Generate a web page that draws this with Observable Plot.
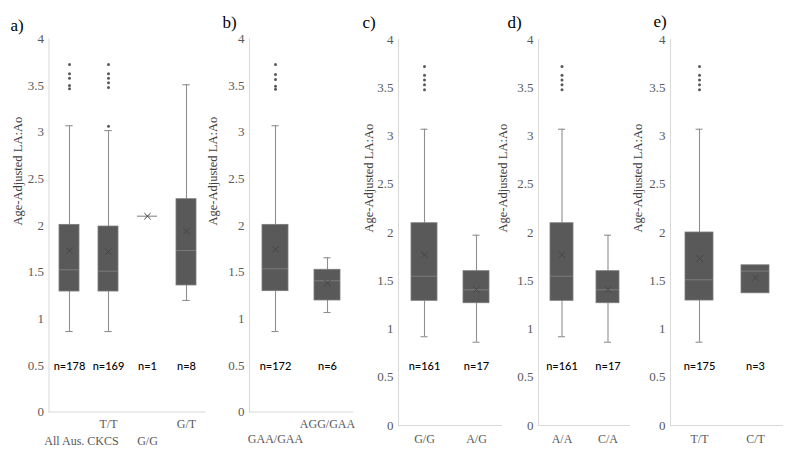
<!DOCTYPE html>
<html><head><meta charset="utf-8">
<script src="https://cdn.jsdelivr.net/npm/d3@7"></script>
<script src="https://cdn.jsdelivr.net/npm/@observablehq/plot@0.6"></script>
<style>
body{margin:0;background:#fff}
#chart{position:relative;width:794px;height:455px;overflow:hidden;background:#fff}
#chart svg{position:absolute;left:0;top:0}
</style></head><body><div id="chart"></div>
<script>
// ---------- data ----------
const yTicks = [0, 0.5, 1, 1.5, 2, 2.5, 3, 3.5, 4];
const yLabel = "Age-Adjusted LA:Ao";

// a)
const aCats = ["All Aus. CKCS", "T/T", "G/G", "G/T"];
const aN    = ["n=178", "n=169", "n=1", "n=8"];
const aLow  = [0.863, 0.863, 2.10, 1.196];
const aQ1   = [1.292, 1.292, 2.10, 1.357];
const aMed  = [1.525, 1.510, 2.10, 1.732];
const aQ3   = [2.007, 1.989, 2.10, 2.282];
const aHigh = [3.070, 3.018, 2.10, 3.509];
const aMean = [1.730, 1.720, 2.10, 1.939];
const aOut  = [[3.727, 3.627, 3.579, 3.501, 3.466], [3.727, 3.627, 3.58, 3.53, 3.48, 3.065], [], []];

// b)
const bCats = ["GAA/GAA", "AGG/GAA"];
const bN    = ["n=172", "n=6"];
const bLow  = [0.863, 1.067];
const bQ1   = [1.296, 1.196];
const bMed  = [1.536, 1.407];
const bQ3   = [2.007, 1.525];
const bHigh = [3.070, 1.654];
const bMean = [1.743, 1.381];
const bOut  = [[3.727, 3.62, 3.565, 3.494, 3.46], []];

// c)
const cCats = ["G/G", "A/G"];
const cN    = ["n=161", "n=17"];
const cLow  = [0.92, 0.863];
const cQ1   = [1.292, 1.267];
const cMed  = [1.547, 1.406];
const cQ3   = [2.096, 1.599];
const cHigh = [3.07, 1.972];
const cMean = [1.769, 1.41];
const cOut  = [[3.72, 3.63, 3.58, 3.53, 3.48], []];

// d)
const dCats = ["A/A", "C/A"];
const dN    = ["n=161", "n=17"];
const dLow  = [0.92, 0.863];
const dQ1   = [1.292, 1.267];
const dMed  = [1.547, 1.406];
const dQ3   = [2.096, 1.599];
const dHigh = [3.07, 1.972];
const dMean = [1.769, 1.41];
const dOut  = [[3.72, 3.63, 3.58, 3.53, 3.48], []];

// e)
const eCats = ["T/T", "C/T"];
const eN    = ["n=175", "n=3"];
const eLow  = [0.863, 1.37];
const eQ1   = [1.295, 1.37];
const eMed  = [1.51, 1.60];
const eQ3   = [2.00, 1.66];
const eHigh = [3.07, 1.66];
const eMean = [1.73, 1.53];
const eOut  = [[3.72, 3.63, 3.58, 3.53, 3.48], []];

// ---------- helpers ----------
function rowsOf(cats, n, low, q1, med, q3, high, mean) {
  return cats.map((c, i) => ({cat: c, n: n[i], low: low[i], q1: q1[i], med: med[i], q3: q3[i], high: high[i], mean: mean[i]}));
}
function outRowsOf(cats, outs) {
  return cats.flatMap((c, i) => outs[i].map(v => ({cat: c, v})));
}

const SERIF = "Liberation Serif, Times New Roman, serif";
const SANS = "Lato, Liberation Sans, sans-serif";
const BOX = "#595959", WHISK = "#8f8f8f", AXIS = "#d9d9d9", TICKTXT = "#595959";

function panel(cfg, rows, outs) {
  const W = 794, H = 455;
  const step = (cfg.right - cfg.left) / rows.length;
  const bw = step / 2;
  const capInset = (bw - 7) / 2;
  const marks = [
    Plot.frame({anchor: "left", stroke: AXIS}),
    Plot.ruleY([0], {stroke: AXIS}),
    Plot.ruleX(rows, {x: "cat", y1: "q3", y2: "high", stroke: WHISK, strokeWidth: 1.1}),
    Plot.ruleX(rows, {x: "cat", y1: "low", y2: "q1", stroke: WHISK, strokeWidth: 1.1}),
    Plot.tickY(rows.filter(d => d.high > d.q3), {x: "cat", y: "high", stroke: WHISK, strokeWidth: 1.1, insetLeft: capInset, insetRight: capInset}),
    Plot.tickY(rows.filter(d => d.low < d.q1), {x: "cat", y: "low", stroke: WHISK, strokeWidth: 1.1, insetLeft: capInset, insetRight: capInset}),
    Plot.barY(rows, {x: "cat", y1: "q1", y2: "q3", fill: BOX, stroke: "#7a7a7a", strokeWidth: 0.8}),
    Plot.tickY(rows, {x: "cat", y: "med", stroke: "#7c7c7c", strokeWidth: 1}),
    Plot.dot(rows, {x: "cat", y: "mean", symbol: "times", r: 3, stroke: "#454545", strokeWidth: 1}),
    Plot.dot(outs, {x: "cat", y: "v", r: 1.5, fill: BOX}),
    Plot.text(rows, {x: "cat", y: () => cfg.nY, text: "n", fill: "#000", fontFamily: SANS, fontSize: 11, fontWeight: 500}),
    Plot.axisY(yTicks, {tickSize: 0, tickPadding: 5, tickFormat: d => String(d), fontSize: 13, fontFamily: SERIF, fill: TICKTXT, label: null}),
    ...cfg.xRows.map(r => Plot.axisX(r.ticks, {tickSize: 0, tickPadding: r.pad, dx: r.dx || 0, fontSize: 12, fontFamily: SERIF, fill: TICKTXT, label: null})),
    Plot.text([yLabel], {frameAnchor: "left", dx: cfg.labelDx, rotate: -90, fill: "#404040", fontFamily: SERIF, fontSize: 12.5}),
    Plot.text([cfg.letter], {frameAnchor: "top-left", textAnchor: "start", dx: cfg.letterDx, dy: cfg.letterDy, fill: "#000", fontFamily: SERIF, fontSize: 17})
  ];
  return Plot.plot({
    width: W, height: H,
    marginLeft: cfg.left, marginRight: W - cfg.right,
    marginTop: cfg.top, marginBottom: H - cfg.bottom,
    style: {background: "transparent", color: "#595959", overflow: "visible", fontFamily: SERIF},
    x: {domain: rows.map(d => d.cat), paddingInner: 0.5, paddingOuter: 0.25},
    y: {domain: [0, 4]},
    marks
  });
}

const panels = [
  [{letter: "a)", left: 48.5, right: 205.5, top: 38.5, bottom: 411.5, nY: 0.49, labelDx: -31, letterDx: -38.5, letterDy: -20,
    xRows: [{ticks: ["T/T", "G/T"], pad: 7}, {ticks: ["G/G"], pad: 24}, {ticks: ["All Aus. CKCS"], pad: 24, dx: 12}]},
   rowsOf(aCats, aN, aLow, aQ1, aMed, aQ3, aHigh, aMean), outRowsOf(aCats, aOut)],
  [{letter: "b)", left: 249, right: 353, top: 38.5, bottom: 411.5, nY: 0.49, labelDx: -37, letterDx: -27, letterDy: -23,
    xRows: [{ticks: ["AGG/GAA"], pad: 7}, {ticks: ["GAA/GAA"], pad: 22}]},
   rowsOf(bCats, bN, bLow, bQ1, bMed, bQ3, bHigh, bMean), outRowsOf(bCats, bOut)],
  [{letter: "c)", left: 398, right: 502, top: 39, bottom: 425, nY: 0.61, labelDx: -30, letterDx: -36, letterDy: -24,
    xRows: [{ticks: cCats, pad: 9}]},
   rowsOf(cCats, cN, cLow, cQ1, cMed, cQ3, cHigh, cMean), outRowsOf(cCats, cOut)],
  [{letter: "d)", left: 538, right: 630, top: 39, bottom: 425, nY: 0.61, labelDx: -36, letterDx: -31, letterDy: -24,
    xRows: [{ticks: dCats, pad: 9}]},
   rowsOf(dCats, dN, dLow, dQ1, dMed, dQ3, dHigh, dMean), outRowsOf(dCats, dOut)],
  [{letter: "e)", left: 670, right: 783, top: 39, bottom: 425, nY: 0.61, labelDx: -33, letterDx: -17, letterDy: -25,
    xRows: [{ticks: eCats, pad: 9}]},
   rowsOf(eCats, eN, eLow, eQ1, eMed, eQ3, eHigh, eMean), outRowsOf(eCats, eOut)]
];

const host = document.getElementById("chart");
for (const [cfg, rows, outs] of panels) host.appendChild(panel(cfg, rows, outs));
</script></body></html>
